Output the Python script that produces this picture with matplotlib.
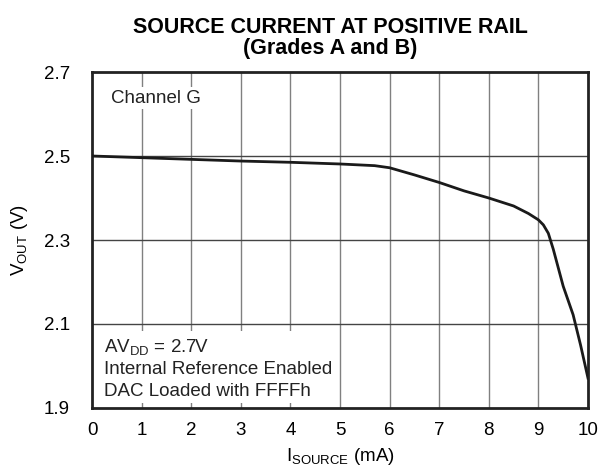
import matplotlib
matplotlib.use("Agg")
import matplotlib.pyplot as plt
from matplotlib.patches import Rectangle

plt.rcParams['font.family'] = ['Liberation Sans', 'DejaVu Sans']

x_ma = [0, 1, 2, 3, 4, 5, 5.7, 6, 6.5, 7, 7.5, 8, 8.5, 8.8, 9, 9.1, 9.2, 9.3, 9.5, 9.7, 9.85, 10]
v_out = [2.500, 2.496, 2.492, 2.488, 2.485, 2.481, 2.477, 2.472, 2.455, 2.437, 2.417, 2.400, 2.381,
         2.363, 2.348, 2.336, 2.316, 2.278, 2.190, 2.122, 2.050, 1.971]

x_ticks = list(range(0, 11))
y_ticks = [1.9, 2.1, 2.3, 2.5, 2.7]
note_lines = ["AV$_{\\mathregular{DD}}$ = 2.7V", "Internal Reference Enabled", "DAC Loaded with FFFFh"]

FS = 13.5

fig = plt.figure(figsize=(5.98, 4.68), dpi=100)
ax = fig.add_axes([92/598, 1-408/468, 496/598, 336/468])

ax.set_xlim(0, 10)
ax.set_ylim(1.9, 2.7)
ax.set_xticks(x_ticks)
ax.set_yticks(y_ticks)
ax.set_xticklabels([str(t) for t in x_ticks], fontsize=FS)
ax.set_yticklabels([f"{t:.1f}" for t in y_ticks], fontsize=FS)
ax.tick_params(length=0)
ax.tick_params(axis='x', pad=10)
ax.tick_params(axis='y', pad=16)

for xv in x_ticks[1:-1]:
    ax.axvline(xv, color='#808080', lw=1.0, zorder=1)
for yv in y_ticks[1:-1]:
    ax.axhline(yv, color='#444444', lw=1.0, zorder=1)

for s in ax.spines.values():
    s.set_linewidth(2.0)
    s.set_color('#222222')

ax.plot(x_ma, v_out, color='#1a1a1a', lw=2.0, zorder=3, solid_joinstyle='round')

ax.text(0.38, 2.638, "Channel G", fontsize=FS, color='#222222', va='center', ha='left',
        bbox=dict(facecolor='white', edgecolor='none', pad=2), zorder=2)

# white backing box for the condition note
ax.add_patch(Rectangle((0.02, 1.912), 4.85, 0.171, facecolor='white', edgecolor='none', zorder=1.5))
for i, line in enumerate(note_lines):
    ax.text(0.24, 2.031 - i * 0.0512, line, fontsize=FS, color='#222222', va='baseline', ha='left', zorder=2)

ax.set_ylabel("V$_{\\mathregular{OUT}}$ (V)", fontsize=FS, labelpad=10)
ax.set_xlabel("I$_{\\mathregular{SOURCE}}$ (mA)", fontsize=FS, labelpad=5)
ax.set_title("SOURCE CURRENT AT POSITIVE RAIL\n(Grades A and B)", fontsize=15.5, x=0.48,
             fontweight='bold', pad=13, linespacing=1.0)

fig.savefig("out.png", dpi=100)
